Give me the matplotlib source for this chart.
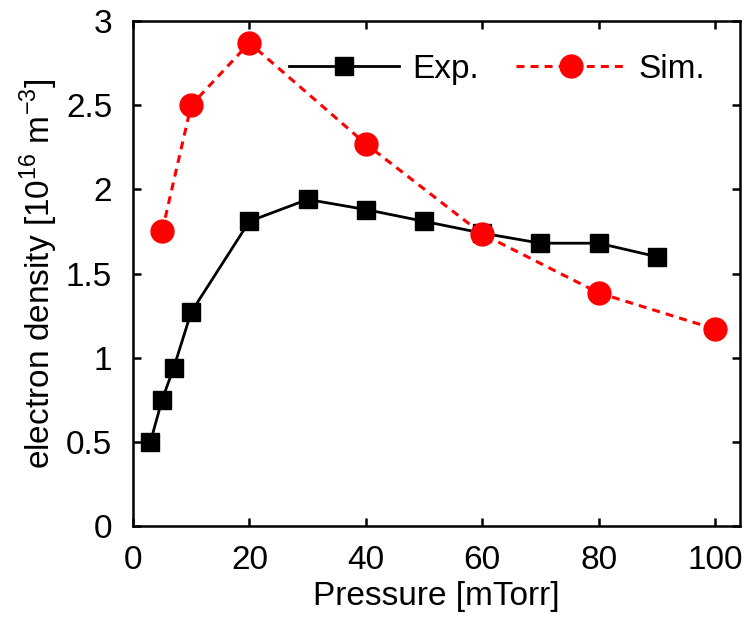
import numpy as np
import matplotlib
matplotlib.use("Agg")
import matplotlib.pyplot as plt

plt.rcParams['font.family'] = ['Liberation Sans', 'DejaVu Sans']
plt.rcParams['mathtext.fontset'] = 'custom'
plt.rcParams['mathtext.rm'] = 'Liberation Sans'

# experimental data
p_exp = [3, 5, 7, 10, 20, 30, 40, 50, 60, 70, 80, 90]
ne_exp = [0.50, 0.75, 0.94, 1.27, 1.81, 1.94, 1.88, 1.81, 1.74, 1.68, 1.68, 1.60]

# simulation data
p_sim = [5, 10, 20, 40, 60, 80, 100]
ne_sim = [1.75, 2.50, 2.87, 2.27, 1.735, 1.385, 1.17]

xticks = [0, 20, 40, 60, 80, 100]
yticks = [0, 0.5, 1, 1.5, 2, 2.5, 3]

fig = plt.figure(figsize=(7.44, 6.18), dpi=100)
ax = fig.add_axes([133/744, 1 - 526/618, (740-133)/744, (526-21)/618])

ax.plot(p_exp, ne_exp, 'k-', marker='s', markersize=13.5, lw=2, label='Exp.')
ax.plot(p_sim, ne_sim, color='red', ls=(0, (2.6, 2.0)), lw=2.2, marker='o',
        markersize=16.5, label='Sim.')

ax.set_xlim(0, 104.3)
ax.set_ylim(0, 3)
ax.set_xticks(xticks)
ax.set_yticks(yticks)
ax.set_xticklabels([str(t) for t in xticks])
ax.set_yticklabels(['0', '0.5', '1', '1.5', '2', '2.5', '3'])
ax.tick_params(direction='in', length=6, width=1.8, top=True, right=True,
               labelsize=24)
ax.tick_params(axis='x', pad=14)
ax.tick_params(axis='y', pad=15)
for s in ax.spines.values():
    s.set_linewidth(1.8)

ax.set_xlabel('Pressure [mTorr]', fontsize=24, labelpad=3)
ax.set_ylabel('electron density [10$^{16}$ m$^{-3}$]', fontsize=24, labelpad=4)

ax.legend(loc='upper center', bbox_to_anchor=(0.6, 0.995), ncol=2, frameon=False,
          fontsize=24, handlelength=3.3, columnspacing=1.1, handletextpad=0.4,
          numpoints=1)

fig.savefig('out.png', dpi=100)
